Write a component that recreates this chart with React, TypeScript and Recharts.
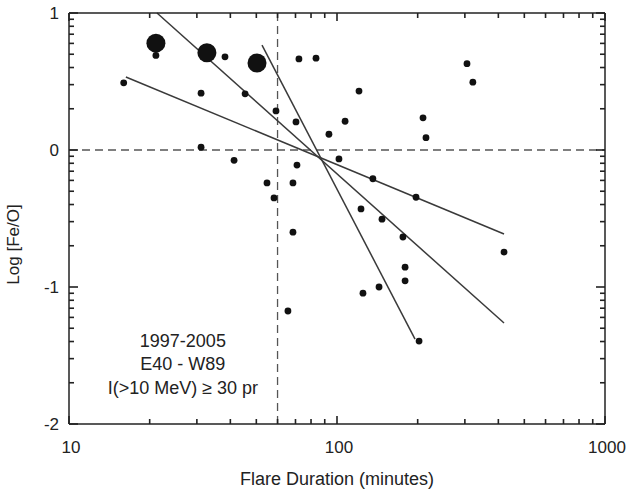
import { ScatterChart, Scatter, XAxis, YAxis, ReferenceLine, ReferenceDot } from "recharts";

// flare duration (minutes) and log Fe/O for each event
const durations = [
  16.0, 21.1, 31.1, 31.1, 38.2, 41.3, 45.4, 54.8, 58.2, 59.2, 65.6, 68.5, 68.5, 70.3, 70.9, 72.1,
  83.5, 93.3, 101.7, 107.2, 120.8, 122.9, 125.0, 136.1, 143.5, 147.2, 176.2, 179.5, 179.5, 197.2,
  202.4, 209.4, 214.8, 305.5, 321.3, 420,
];
const logFeO = [
  0.49, 0.69, 0.02, 0.415, 0.68, -0.075, 0.41, -0.24, -0.35, 0.285, -1.175, -0.24, -0.6, 0.205, -0.11, 0.665,
  0.67, 0.115, -0.065, 0.21, 0.43, -0.43, -1.045, -0.21, -1.0, -0.505, -0.635, -0.855, -0.955, -0.345,
  -1.395, 0.235, 0.09, 0.63, 0.495, -0.745,
];

// the three big events
const bigDurations = [21.1, 32.7, 50.3];
const bigLogFeO = [0.78, 0.71, 0.635];

// fitted lines (start / end)
const fitStartX = [16.3, 21.3, 52.5];
const fitStartY = [0.533, 1.0, 0.766];
const fitEndX = [420, 420, 195.5];
const fitEndY = [-0.613, -1.263, -1.38];

const xMajor = [10, 100, 1000];
const xTicks = [10, 20, 30, 40, 50, 60, 70, 80, 90, 100, 200, 300, 400, 500, 600, 700, 800, 900, 1000];
const yMajor = [-2, -1, 0, 1];
const yMinorFactors = [2, 3, 4, 5, 6, 7, 8, 9];
const yTicks = [
  ...yMajor,
  ...yMajor.slice(0, 3).flatMap((m) => yMinorFactors.map((k) => m + Math.log10(k))),
];

const INK = "#222";
const MAJ = 8;
const MIN = 5;
const TW = 1.6;

const isMajor = (v: number, majors: number[]) => majors.some((m) => Math.abs(m - v) < 1e-6);

// tick marks as filled rects
const BottomTick = (props: any) => {
  const { x, y, payload } = props;
  const major = isMajor(payload.value, xMajor);
  const len = major ? MAJ : MIN;
  return (
    <g>
      <rect x={x - TW / 2} y={y - len} width={TW} height={len} fill={INK} />
      {major && (
        <text x={x + 2} y={y + 29} textAnchor="middle" fontSize={17} fill={INK}>
          {payload.value}
        </text>
      )}
    </g>
  );
};

const TopTick = (props: any) => {
  const { x, y, payload } = props;
  const len = isMajor(payload.value, xMajor) ? MAJ : MIN;
  return <path d={`M${x},${y}V${y + len}`} stroke="#222222" strokeWidth={TW} fill="none" />;
};

const LeftTick = (props: any) => {
  const { x, y, payload } = props;
  const major = isMajor(payload.value, yMajor);
  const len = major ? MAJ + 1 : MIN;
  return (
    <g>
      <rect x={x} y={y - TW / 2} width={len} height={TW} fill={INK} />
      {major && (
        <text x={x - 10} y={y + 6} textAnchor="end" fontSize={17} fill={INK}>
          {payload.value}
        </text>
      )}
    </g>
  );
};

const RightTick = (props: any) => {
  const { x, y, payload } = props;
  const len = isMajor(payload.value, yMajor) ? MAJ + 1 : MIN;
  return <path d={`M${x},${y}H${x - len}`} stroke="#222222" strokeWidth={TW} fill="none" />;
};

const smallPoints = durations.map((d, i) => ({ x: d, y: logFeO[i] }));
const bigPoints = bigDurations.map((d, i) => ({ x: d, y: bigLogFeO[i] }));

export default function App() {
  return (
    <div
      style={{
        position: "absolute",
        left: 0,
        top: 0,
        background: "#fff",
        fontFamily: "'Liberation Sans', Arial, sans-serif",
      }}
    >
      <ScatterChart width={629} height={490} margin={{ top: 0, right: 0, bottom: 0, left: 0 }}>
        <XAxis
          dataKey="x"
          type="number"
          scale="log"
          domain={[10, 1000]}
          ticks={xTicks}
          interval={0}
          allowDataOverflow
          height={66}
          tickSize={0}
          tickMargin={0}
          tick={<BottomTick />}
          axisLine={{ stroke: INK, strokeWidth: 1.5 }}
          label={{ value: "Flare Duration (minutes)", position: "insideBottom", offset: 5, fontSize: 18, fill: INK }}
        />
        <XAxis
          xAxisId="top"
          orientation="top"
          dataKey="x"
          type="number"
          scale="log"
          domain={[10, 1000]}
          ticks={xTicks}
          interval={0}
          allowDataOverflow
          height={13}
          tickSize={0}
          tickMargin={0}
          tick={<TopTick />}
          axisLine={{ stroke: INK, strokeWidth: 1.5 }}
        />
        <YAxis
          dataKey="y"
          type="number"
          domain={[-2, 1]}
          ticks={yTicks}
          interval={0}
          allowDataOverflow
          width={69}
          tickSize={0}
          tickMargin={0}
          tick={<LeftTick />}
          axisLine={{ stroke: INK, strokeWidth: 1.5 }}
          label={{
            content: (p: any) => {
              const vb = p.viewBox;
              const cx = vb.x + 13;
              const cy = vb.y + vb.height / 2 + 26;
              return (
                <text
                  x={cx}
                  y={cy}
                  transform={`rotate(-90 ${cx} ${cy})`}
                  textAnchor="middle"
                  dominantBaseline="central"
                  fontSize={17}
                  fill={INK}
                >
                  Log [Fe/O]
                </text>
              );
            },
          }}
        />
        <YAxis
          yAxisId="right"
          orientation="right"
          dataKey="y"
          type="number"
          domain={[-2, 1]}
          ticks={yTicks}
          interval={0}
          allowDataOverflow
          width={24}
          tickSize={0}
          tickMargin={0}
          tick={<RightTick />}
          axisLine={{ stroke: INK, strokeWidth: 1.5 }}
        />

        <ReferenceLine x={60} stroke="#555" strokeWidth={1.3} strokeDasharray="8 5" />
        <ReferenceLine y={0} stroke="#555" strokeWidth={1.3} strokeDasharray="8 5" />

        {fitStartX.map((sx, i) => (
          <ReferenceLine
            key={`fit-${i}`}
            segment={[
              { x: sx, y: fitStartY[i] },
              { x: fitEndX[i], y: fitEndY[i] },
            ]}
            stroke="#3a3a3a"
            strokeWidth={1.5}
          />
        ))}

        <Scatter
          data={smallPoints}
          isAnimationActive={false}
          shape={(p: any) => <circle cx={p.cx} cy={p.cy} r={3.4} fill="#111" />}
        />
        <Scatter
          data={bigPoints}
          isAnimationActive={false}
          shape={(p: any) => <circle cx={p.cx} cy={p.cy} r={9.5} fill="#111" />}
        />
        <Scatter
          data={smallPoints}
          xAxisId="top"
          yAxisId="right"
          isAnimationActive={false}
          shape={() => <g />}
        />

        <ReferenceDot
          x={26.6}
          y={-1.56}
          r={1}
          fill="none"
          stroke="none"
          label={{
            content: (p: any) => {
              const vb = p.viewBox;
              const cx = vb.x + vb.width / 2;
              const cy = vb.y + vb.height / 2;
              return (
                <g fontSize={18} fill={INK} textAnchor="middle">
                  <text x={cx} y={cy - 17}>1997-2005</text>
                  <text x={cx} y={cy + 6}>E40 - W89</text>
                  <text x={cx} y={cy + 30}>I(&gt;10 MeV) ≥ 30 pr</text>
                </g>
              );
            },
          }}
        />
      </ScatterChart>
    </div>
  );
}
